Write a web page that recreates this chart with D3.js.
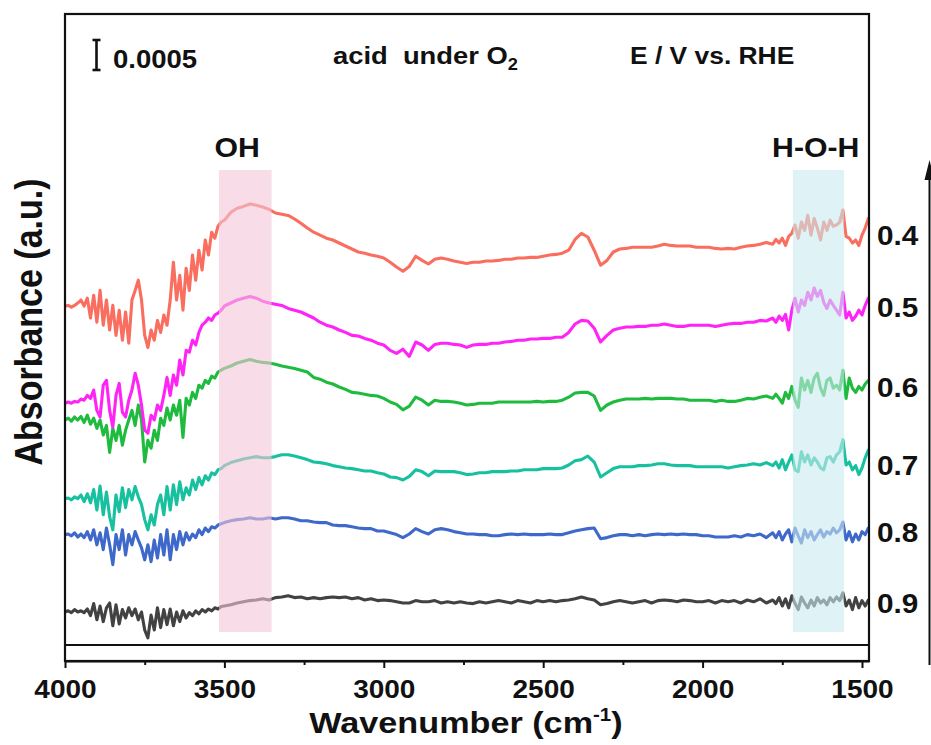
<!DOCTYPE html>
<html>
<head>
<meta charset="utf-8">
<script src="https://cdn.jsdelivr.net/npm/d3@7/dist/d3.min.js"></script>
<style>
  html, body { margin: 0; padding: 0; background: #fff; }
  svg text { font-family: "Liberation Sans", Arial, Helvetica, sans-serif; font-weight: bold; fill: #111; }
</style>
</head>
<body>
<svg id="chart" width="931" height="745"></svg>
<script>
// Wavenumber grid (cm-1): 10 cm-1 steps in the noisy OH / water regions, 20 cm-1 in between
const wavenumbers = [].concat(
  d3.range(4000, 3500, -10),
  d3.range(3500, 1770, -20),
  d3.range(1770, 1470, -10)
);

// Electrode potentials (V vs. RHE) for each trace, top to bottom
const potentials = ["0.4", "0.5", "0.6", "0.7", "0.8", "0.9"];

// Vertical stacking offset of each trace (absorbance, units of 1e-4)
const offsets = [66.3, 53.3, 40.8, 29.7, 18.2, 7.2];

// Absorbance change of each trace around its offset (units of 1e-4)
const trace04 = [
  -9.8,-9.7,-10,-9.7,-9.3,-8.8,-9.8,-8.5,-11.8,-8,
  -12.5,-7.2,-13,-8.8,-13.8,-9.7,-14.7,-10.5,-15.5,-10.8,
  -16,-8.8,-7.2,-5.5,-8.8,-14.7,-16.7,-13.8,-15.5,-12.2,
  -14.2,-11.3,-13,-8.8,-2.5,-8.8,-4.7,-10.5,-3.5,-7.2,
  -1.3,-5.5,-0.5,-3.8,1.2,-1.3,2.5,1.5,3.5,4.2,
  4.5,5.8,6.5,6.8,7.2,7,6.7,6.3,5.7,5.5,
  5.3,4.7,4,3.2,2.5,2,1.5,1.2,0.7,0.2,
  -0.3,-0.8,-1,-1.3,-1.5,-1.8,-2.5,-3.3,-4,-3.2,
  -1.5,-2.2,-2.8,-2,-1.8,-2,-2.3,-2.5,-2.7,-2.5,
  -2.5,-2.3,-2.3,-2.2,-2,-2,-1.8,-1.8,-1.7,-1.7,
  -1.5,-1.3,-1.2,-1,-0.5,1.3,2.3,1.7,-0.5,-3,
  -2.2,-0.8,-0.3,-0.2,0,0,0,0,0.2,0.5,
  0.3,0.2,0.2,0.2,0,0,0,-0.2,-0.3,-0.2,
  -0.3,0,0.2,0.3,0.5,0.8,0.5,
  1.3,0.7,1.5,0.3,1.8,2.3,3.7,1.5,4.2,2.8,
  5.3,2,4.8,3.2,1.2,4.2,2.8,4.5,3.5,3.7,
  4.2,6.2,1.8,1.5,0.7,1.2,0.3,2,3.2,4.8
];
const trace05 = [
  -13,-12.8,-13,-12.7,-12.8,-12.3,-12.5,-11.7,-12.2,-10.8,
  -14.2,-15.3,-10,-9.2,-14.2,-17,-11.7,-9.7,-14.5,-15.3,
  -12.5,-10.8,-8,-10,-13.3,-17.5,-18,-15,-15.8,-13.3,
  -14.2,-11.7,-8.7,-11.7,-8.3,-10,-5.8,-8.3,-4.2,-4.5,
  -2.5,-3.3,-1.2,0,0.5,1.2,0.8,1.7,2,2.5,
  3.2,3.7,4.2,4.5,4.8,4.5,4,3.7,3.5,3.3,
  2.8,2.5,2.2,1.7,1.2,0.5,0,-0.3,-0.8,-1.2,
  -1.7,-1.8,-2.2,-2.5,-3,-3.3,-4.2,-4.7,-4,-5.2,
  -2.8,-3.3,-4.2,-3.2,-3,-3,-3.2,-3.3,-3.7,-3.3,
  -3.2,-3.2,-3,-3,-2.8,-2.7,-2.5,-2.5,-2.3,-2.3,
  -2.2,-2.2,-2,-2,-1.2,0.2,0.8,0.7,-0.5,-2.8,
  -1.7,-0.8,-0.5,-0.3,-0.3,-0.2,-0.2,0,0,0.2,
  0,-0.2,-0.2,0,0,0,0,-0.2,0,0.2,
  0.3,0.3,0.5,0.5,0.8,0.7,1.2,
  0.5,1.5,0.8,1.8,-0.8,2.5,4.5,2.2,4.2,3.3,
  5.5,4.2,6.2,4.8,5.8,3.8,2.8,4.2,3.3,2.5,
  1.7,5.5,1.2,2.2,0.8,1.5,2.5,1.7,3.3,4.5
];
const trace06 = [
  -3.3,-3,-3.5,-2.8,-3.3,-2.7,-3.7,-2.5,-4,-3,
  -4.7,-3.3,-5.8,-4.2,-8.7,-4.7,-6.7,-4.2,-7.5,-5,
  -3.3,-1.7,-4.2,-0.8,-3.3,-10.3,-6.7,-8,-5,-6.7,
  -3,-4.2,-1.3,-3.3,-0.8,-2.5,0,-6.2,0.3,-0.8,
  1.3,0.3,2.5,2,3.3,2.8,4,3.7,4.7,5,
  5.3,5.7,6.2,6.5,6.8,6.5,6.3,6.2,6,5.7,
  5.5,5.3,5,4.7,3.8,3.5,3,2.7,2.2,1.8,
  1.3,1.2,1,0.8,0.7,0.3,-0.3,-0.7,-1.6,-1,
  0.5,0,-0.8,0,-0.2,-0.2,-0.3,-0.5,-0.8,-0.7,
  -0.5,-0.5,-0.5,-0.3,-0.3,-0.3,-0.3,-0.3,-0.3,-0.2,
  -0.3,-0.2,-0.2,0,0.5,1.2,1.3,1.3,0.7,-1.7,
  -0.8,-0.3,0,0.2,0.2,0.2,0.3,0.2,0.3,0.3,
  0.3,0.2,0.2,0,0,0,0,-0.2,0,-0.2,
  -0.2,0,0.3,0.2,0.5,0.7,0.3,
  1,0.3,-0.5,1.3,0.3,2.3,0,-1.2,3.7,1.7,
  3.3,1.3,3.7,4.5,2,0.8,3.3,3.7,2,2.5,
  1.7,5,0.3,3.7,2,1.3,2.3,1.7,2.7,3.3
];
const trace07 = [
  -5.3,-5.2,-5.5,-5,-5.3,-4.7,-5.8,-4.5,-6,-3.8,
  -7.2,-3.2,-8,-4.2,-8.3,-10.5,-4.7,-7.5,-3.5,-6.8,
  -3.8,-5.5,-3.3,-5,-6.3,-8.8,-10.5,-8,-9.7,-6.3,
  -4.7,-8,-3.3,-7.2,-3,-6.3,-2.5,-5.5,-3.5,-4.7,
  -2.2,-3.8,-1.8,-3,-1.5,-2.2,-1,-1.3,-0.5,-0.3,
  0.2,0.7,1,1.3,1.5,1.7,1.5,1.5,1.7,2,
  2,1.8,1.5,1.2,0.8,0.7,0.5,0.2,0,-0.2,
  -0.3,-0.5,-0.7,-0.7,-1,-1.2,-1.7,-1.8,-2.2,-1.6,
  -0.5,-0.8,-1.5,-0.7,-0.8,-0.8,-0.8,-1,-1.3,-1.2,
  -1,-1,-0.8,-0.8,-0.8,-0.7,-0.7,-0.5,-0.5,-0.5,
  -0.3,-0.3,-0.3,-0.2,0.3,1,1.2,1.8,0.8,-1.7,
  -1,-0.3,0,0,0,0.2,0.2,0.3,0.5,0.5,
  0.3,0.2,0.2,0.2,0,0,0,0,0,-0.2,
  0,0.2,0.3,0.5,0.3,0.7,0.2,
  0.8,-0.2,1.2,-0.5,0.8,2,-0.5,-0.8,2.5,0.8,
  2,0.3,1.5,0.8,-0.2,-0.5,1.5,1.7,0.8,2,
  2.5,4.5,0.3,0.8,-0.5,0.2,-1.3,-0.2,1.5,2.8
];
const trace08 = [
  0.2,0.3,0,0.5,-0.2,0.3,-0.3,0.7,-0.7,1,
  -1.5,0.5,-2.3,1.3,-1.5,-4.8,0.2,-2.3,1,-3.2,
  0.2,-1.5,0.7,-0.7,-2,-4,-1.5,-4.3,-0.7,-3.7,
  0.2,-3.2,1,-4,0.2,-2.3,0.7,-1.5,0.5,-0.7,
  0.3,-0.3,1,0.2,1.3,0.7,1.5,1.3,1.8,2,
  2.2,2.5,2.7,2.8,3,2.8,2.8,3,2.8,3,
  3,2.8,2.5,2.5,2.3,2.2,2.2,1.8,1.7,1.7,
  1.5,1.3,1.2,1.2,0.8,0.8,0.5,0.2,-0.3,0.3,
  1.2,0.7,0.3,1,1.2,1,0.7,0.5,0.3,0.3,
  0.2,0.2,0,0,0.2,0.3,0.2,0.3,0.2,0.2,
  0.2,0.3,0.2,0.2,0.5,0.8,1,1.2,1.3,-0.5,
  -0.3,0,0.2,0.2,0,0.2,0,0.2,0.3,0.2,
  0.3,0.2,0.3,0.2,0.2,0,0,-0.2,-0.2,-0.2,
  0,-0.2,0.2,0,0.3,-0.3,0.5,
  -0.3,0.7,-0.7,0.3,1,-1,1.3,0,-1.2,1,
  -0.3,0.7,-0.7,0.2,1,-0.2,0.7,0.3,1.3,0.5,
  1,2.3,-0.7,0.7,-1,0.3,-0.7,0.7,0.2,1.3
];
const trace09 = [
  -1.7,-1.5,-1.8,-1.3,-1.7,-1.5,-1.8,-1.2,-2.3,-0.3,
  -3,-0.7,-3.3,-1,-0.2,-4,-0.5,-3.7,-1.3,-2.7,
  -1,-2.3,-1.2,-3,-1.7,-4.7,-6,-2.2,-4.7,-1,
  -4.3,-1.3,-3.8,-1.2,-4,-1.7,-3.3,-1.5,-2.7,-1.8,
  -2.3,-1.5,-2,-1.3,-1.7,-1.2,-1.5,-1,-1.2,-0.8,
  -0.7,-0.5,-0.2,0,0.2,0.3,0.5,0.3,0.7,0.8,
  1,0.7,0.8,0.5,0.7,0.5,0.7,0.8,0.7,0.8,
  0.5,0.7,0.3,0.5,0.2,0.3,0.2,0,-0.2,-0.2,
  0.2,0,0,0.2,-0.2,0,-0.2,0,-0.2,-0.3,
  0,-0.2,0,0.2,0,-0.2,0.2,0,-0.2,0.2,
  0,0.2,0,0.2,0.3,0.5,0.8,0.5,0.3,-0.5,
  -0.3,0,0.2,0,-0.2,0,0.2,-0.2,0.2,0.3,
  0.2,0,0.3,0.2,0,0,0.2,-0.2,0.2,0,
  0.2,-0.2,0.3,0,0.5,-0.2,0.3,
  -0.3,0.7,-0.7,0.5,-1,1,-0.3,-1.3,0.8,-0.2,
  -1,0.3,-0.7,0.7,-0.2,0.3,-0.5,0.7,0,0.8,
  0.2,1.5,-0.7,0.3,-1.3,0.7,-1,0.2,-0.7,0.3
];
const traces = [trace04, trace05, trace06, trace07, trace08, trace09];

// Axis ticks
const majorTicks = [4000, 3500, 3000, 2500, 2000, 1500];
const minorTicks = [3750, 3250, 2750, 2250, 1750];

// Highlighted absorption regions (cm-1) and their labels
const bandRanges = [[3517, 3352], [1717, 1556]];
const bandLabels = ["OH", "H-O-H"];
const bandLabelAt = [3460, 1645];

// Scale bar height (absorbance)
const scaleBarValue = 0.0005;

// ---- drawing ----
const colors = ["#f96e5f", "#ff24f6", "#1fbb3f", "#17c09e", "#3e68c9", "#424242"];
const bandColors = ["#f3c6d9", "#cae9ee"];
const stretch = 1.12;   // horizontal glyph stretch of the typeface

const svg = d3.select("#chart");
const plot = { left: 65, right: 869, top: 14, bottom: 645, axis: 661 };

const x = d3.scaleLinear().domain([4000, 1478]).range([plot.left, plot.right]);
const y = d3.scaleLinear().domain([0, 105.17]).range([plot.bottom, plot.top]);

svg.append("defs").append("clipPath").attr("id", "plotclip")
  .append("rect")
  .attr("x", plot.left).attr("y", plot.top)
  .attr("width", plot.right - plot.left).attr("height", plot.bottom - plot.top);

// spectra, bottom trace first so upper traces overlap it
const line = d3.line()
  .x(d => x(d[0]))
  .y(d => y(d[1]));

const traceGroup = svg.append("g").attr("clip-path", "url(#plotclip)");
d3.range(traces.length).reverse().forEach(i => {
  const pts = wavenumbers.map((w, k) => [w, offsets[i] + traces[i][k]]);
  traceGroup.append("path")
    .datum(pts)
    .attr("d", line)
    .attr("fill", "none")
    .attr("stroke", colors[i])
    .attr("stroke-width", 3.1)
    .attr("stroke-linejoin", "round")
    .attr("stroke-linecap", "round");
});

// translucent bands over the spectra
bandRanges.forEach((r, i) => {
  svg.append("rect")
    .attr("x", x(r[0]))
    .attr("width", x(r[1]) - x(r[0]))
    .attr("y", 170)
    .attr("height", 632 - 170)
    .attr("fill", bandColors[i])
    .attr("opacity", 0.6);
  svg.append("text")
    .attr("transform", `translate(${x(bandLabelAt[i])},157) scale(${stretch},1)`)
    .attr("text-anchor", "middle")
    .attr("font-size", 27)
    .text(bandLabels[i]);
});

// frame
const frame = svg.append("g").attr("stroke", "#111").attr("stroke-width", 2.2).attr("fill", "none");
frame.append("rect")
  .attr("x", plot.left).attr("y", plot.top)
  .attr("width", plot.right - plot.left).attr("height", plot.axis - plot.top);
frame.append("line")
  .attr("x1", plot.left).attr("x2", plot.right)
  .attr("y1", plot.bottom).attr("y2", plot.bottom);

// bottom axis
const axisG = svg.append("g").attr("transform", `translate(0,${plot.axis})`);
axisG.call(d3.axisBottom(x).tickValues(majorTicks).tickSize(7).tickSizeOuter(0).tickFormat(d3.format("d")));
axisG.select(".domain").attr("stroke", "#111").attr("stroke-width", 2.2);
axisG.selectAll(".tick line").attr("stroke", "#111").attr("stroke-width", 2);
axisG.selectAll(".tick text")
  .attr("y", null).attr("dy", null)
  .attr("transform", `translate(0,37) scale(${stretch},1)`)
  .attr("font-size", 25)
  .attr("font-family", null)
  .attr("fill", "#111");

const minorG = svg.append("g").attr("transform", `translate(0,${plot.axis})`);
minorG.call(d3.axisBottom(x).tickValues(minorTicks).tickSize(4).tickSizeOuter(0).tickFormat(""));
minorG.select(".domain").remove();
minorG.selectAll(".tick line").attr("stroke", "#111").attr("stroke-width", 2);

// axis titles
const xTitle = svg.append("text")
  .attr("transform", `translate(466,733) scale(${stretch + 0.02},1)`)
  .attr("text-anchor", "middle")
  .attr("font-size", 30);
xTitle.append("tspan").text("Wavenumber (cm");
xTitle.append("tspan").attr("font-size", 18).attr("dy", -12).text("-1");
xTitle.append("tspan").attr("dy", 12).text(")");

svg.append("text")
  .attr("transform", `translate(42,322) scale(${stretch},1) rotate(-90)`)
  .attr("text-anchor", "middle")
  .attr("font-size", 34)
  .text("Absorbance (a.u.)");

// scale bar
const barTop = 40;
const barLen = y(0) - y(scaleBarValue * 1e4);
const bar = svg.append("g").attr("stroke", "#111").attr("stroke-width", 2.6);
bar.append("line").attr("x1", 96.5).attr("x2", 96.5).attr("y1", barTop).attr("y2", barTop + barLen);
bar.append("line").attr("x1", 92.5).attr("x2", 100.5).attr("y1", barTop).attr("y2", barTop);
bar.append("line").attr("x1", 92.5).attr("x2", 100.5).attr("y1", barTop + barLen).attr("y2", barTop + barLen);
svg.append("text")
  .attr("transform", `translate(113,68) scale(${stretch - 0.02},1)`)
  .attr("font-size", 25)
  .text(String(scaleBarValue));

// condition and potential header
const cond = svg.append("text")
  .attr("transform", `translate(333,64) scale(${stretch + 0.02},1)`)
  .attr("font-size", 24)
  .style("white-space", "pre");
cond.append("tspan").text("acid  under O");
cond.append("tspan").attr("font-size", 16).attr("dy", 6).text("2");

svg.append("text")
  .attr("transform", `translate(630,64) scale(${stretch - 0.02},1)`)
  .attr("font-size", 24)
  .text("E / V vs. RHE");

// potential labels at the right end of each trace
const labelShift = [-2, -8, -3, 8, 6, 11];
potentials.forEach((p, i) => {
  svg.append("text")
    .attr("transform", `translate(877,${y(offsets[i]) + labelShift[i]}) scale(${stretch - 0.02},1)`)
    .attr("font-size", 27)
    .text(p);
});

// arrow indicating potential direction
svg.append("line")
  .attr("x1", 929.5).attr("x2", 929.5)
  .attr("y1", 665).attr("y2", 176)
  .attr("stroke", "#111").attr("stroke-width", 2);
svg.append("path")
  .attr("d", "M929.5,160 L924.5,180 L934.5,180 Z")
  .attr("fill", "#111");
</script>
</body>
</html>
